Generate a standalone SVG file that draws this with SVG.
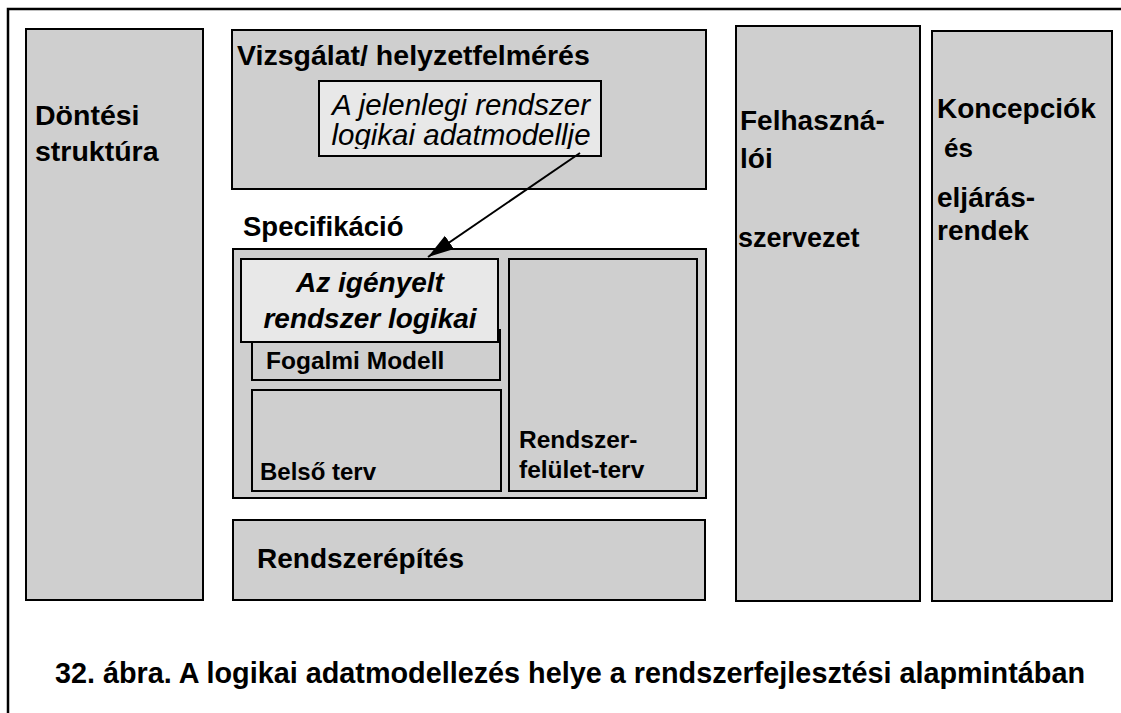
<svg xmlns="http://www.w3.org/2000/svg" width="1121" height="713" viewBox="0 0 1121 713">
<style>
text{font-family:"Liberation Sans",Arial,sans-serif;fill:#000}
.b{font-weight:bold}
.box{fill:#cfcfcf;stroke:#000;stroke-width:2}
.lt{fill:#e8e8e8;stroke:#000;stroke-width:2}
</style>
<defs>
<marker id="ah" markerWidth="28" markerHeight="18" refX="26" refY="9" orient="auto" markerUnits="userSpaceOnUse">
<path d="M0,1 L26,9 L0,17 Z" fill="#000"/>
</marker>
<clipPath id="c1"><rect x="319" y="81" width="282" height="68"/></clipPath>
<clipPath id="c2"><rect x="241" y="259" width="257" height="83"/></clipPath>
</defs>
<rect width="1121" height="713" fill="#fff"/>
<g id="frame"><path d="M8,713 L8,9 L1121,9" fill="none" stroke="#000" stroke-width="2.5"/></g>
<g id="dontesi">
<rect class="box" x="26" y="29" width="177" height="571"/>
<text class="b" x="35" y="125" font-size="28.5">Döntési</text>
<text class="b" x="35" y="161" font-size="28.5">struktúra</text>
</g>
<g id="vizsgalat">
<rect class="box" x="232" y="30" width="474" height="159"/>
<text class="b" x="237" y="65" font-size="28.5">Vizsgálat/ helyzetfelmérés</text>
</g>
<g id="jelenlegi">
<rect class="lt" x="319" y="81" width="282" height="75"/>
<g clip-path="url(#c1)">
<text x="461" y="115" font-size="29.5" font-style="italic" text-anchor="middle">A jelenlegi rendszer</text>
<text x="461" y="145" font-size="29.5" font-style="italic" text-anchor="middle">logikai adatmodellje</text>
</g>
</g>
<g id="specifikacio">
<text class="b" x="243" y="236" font-size="27.5">Specifikáció</text>
<rect class="box" x="233" y="249" width="473" height="249" stroke-width="3.5"/>
</g>
<g id="fogalmi">
<rect class="box" x="252" y="330" width="248" height="50"/>
<text class="b" x="266" y="369" font-size="24.5">Fogalmi Modell</text>
</g>
<g id="igenyelt">
<rect class="lt" x="241" y="259" width="257" height="83"/>
<g clip-path="url(#c2)">
<text class="b" x="370" y="292" font-size="28" font-style="italic" text-anchor="middle">Az igényelt</text>
<text class="b" x="370" y="328" font-size="28" font-style="italic" text-anchor="middle">rendszer logikai</text>
</g>
</g>
<g id="belso">
<rect class="box" x="252" y="390" width="249" height="101"/>
<text class="b" x="260" y="480" font-size="24">Belső terv</text>
</g>
<g id="felulet">
<rect class="box" x="509" y="259" width="188" height="232"/>
<text class="b" x="519" y="448" font-size="24.5">Rendszer-</text>
<text class="b" x="519" y="478" font-size="24.5">felület-terv</text>
</g>
<g id="rendszerepites">
<rect class="box" x="233" y="520" width="472" height="80"/>
<text class="b" x="257" y="568" font-size="28">Rendszerépítés</text>
</g>
<g id="felhasznaloi">
<rect class="box" x="736" y="26" width="184" height="575"/>
<text class="b" x="740" y="130" font-size="28">Felhaszná-</text>
<text class="b" x="740" y="168" font-size="28">lói</text>
<text class="b" x="738" y="247" font-size="27">szervezet</text>
</g>
<g id="koncepciok">
<rect class="box" x="932" y="31" width="180" height="570"/>
<text class="b" x="937" y="118" font-size="28">Koncepciók</text>
<text class="b" x="944" y="157" font-size="26">és</text>
<text class="b" x="937" y="207" font-size="28">eljárás-</text>
<text class="b" x="937" y="240" font-size="28">rendek</text>
</g>
<g id="connectors">
<line x1="580" y1="153" x2="428" y2="257" stroke="#000" stroke-width="2" marker-end="url(#ah)"/>
</g>
<g id="caption">
<text class="b" x="55" y="683" font-size="28.8" textLength="1030" lengthAdjust="spacingAndGlyphs">32. ábra. A logikai adatmodellezés helye a rendszerfejlesztési alapmintában</text>
</g>
</svg>
